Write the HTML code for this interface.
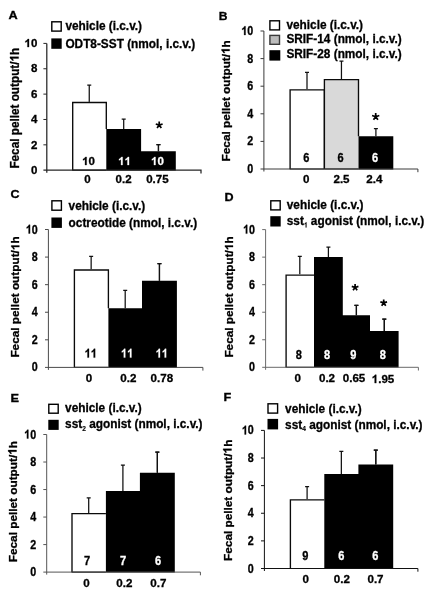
<!DOCTYPE html>
<html><head><meta charset="utf-8"><title>Figure</title>
<style>
html,body{margin:0;padding:0;background:#fff;}
body{width:436px;height:599px;overflow:hidden;font-family:"Liberation Sans", sans-serif;}
svg{display:block;will-change:transform;}
text{font-family:"Liberation Sans", sans-serif;fill:#000;stroke:#000;stroke-width:0.3px;}
.b{font-weight:bold;}
.m{text-anchor:middle;}
.e{text-anchor:end;}
.w{fill:#fff;stroke:#fff;}
</style></head><body>
<svg width="436" height="599" viewBox="0 0 436 599">
<rect width="436" height="599" fill="#fff"/>
<g id="pA">
<text transform="translate(8.4 19.1) scale(1.2 1)" font-size="10.6" class="b">A</text>
<path d="M89.25 101.90V85.00M87.25 85.00H91.25" stroke="#111" stroke-width="1.25" fill="none"/>
<rect x="72.20" y="101.90" width="34.10" height="68.30" fill="#fff"/>
<path d="M72.70 170.20V102.45H106.30V129.10" fill="none" stroke="#0a0a0a" stroke-width="1.35" stroke-linejoin="miter"/>
<path d="M72.20 170.20H106.30" stroke="#0a0a0a" stroke-width="1.2"/>
<g transform="translate(88.50 165.00) scale(1.03 1)"><path transform="translate(-6.23 0) scale(11.2)" d="M0.393 0H0.256V-0.517Q0.181 -0.447 0.079 -0.413V-0.538Q0.133 -0.555 0.196 -0.605Q0.259 -0.654 0.282 -0.719H0.393Z" fill="#000" stroke="#000" stroke-width="0.0268"/><text x="0.00" y="0" font-size="11.2" class="b">0</text></g>
<text transform="translate(87.40 183.40) scale(1.03 1)" font-size="11.2" class="b m">0</text>
<path d="M123.70 129.10V119.00M121.70 119.00H125.70" stroke="#111" stroke-width="1.25" fill="none"/>
<path d="M158.45 151.30V144.70M156.45 144.70H160.45" stroke="#111" stroke-width="1.25" fill="none"/>
<path d="M106.30 170.60V129.10H141.10V151.30H175.80V170.60Z" fill="#000"/>
<g transform="translate(124.50 165.00) scale(1.03 1)"><path transform="translate(-6.23 0) scale(11.2)" d="M0.393 0H0.256V-0.517Q0.181 -0.447 0.079 -0.413V-0.538Q0.133 -0.555 0.196 -0.605Q0.259 -0.654 0.282 -0.719H0.393Z" fill="#fff" stroke="#fff" stroke-width="0.0268"/><path transform="translate(0.00 0) scale(11.2)" d="M0.393 0H0.256V-0.517Q0.181 -0.447 0.079 -0.413V-0.538Q0.133 -0.555 0.196 -0.605Q0.259 -0.654 0.282 -0.719H0.393Z" fill="#fff" stroke="#fff" stroke-width="0.0268"/></g>
<text transform="translate(123.60 183.40) scale(1.03 1)" font-size="11.2" class="b m">0.2</text>
<path d="M158.45 151.30V144.70M156.45 144.70H160.45" stroke="#111" stroke-width="1.25" fill="none"/>
<g transform="translate(157.40 165.00) scale(1.03 1)"><path transform="translate(-6.23 0) scale(11.2)" d="M0.393 0H0.256V-0.517Q0.181 -0.447 0.079 -0.413V-0.538Q0.133 -0.555 0.196 -0.605Q0.259 -0.654 0.282 -0.719H0.393Z" fill="#fff" stroke="#fff" stroke-width="0.0268"/><text x="0.00" y="0" font-size="11.2" class="b w">0</text></g>
<text transform="translate(157.40 183.40) scale(1.03 1)" font-size="11.2" class="b m">0.75</text>
<path d="M46.80 43.40V172.70M43.40 170.20H201.00V173.40" stroke="#262626" stroke-width="1.25" fill="none"/>
<text transform="translate(37.30 173.86) scale(1.03 1)" font-size="11.2" class="b e">0</text>
<path d="M43.40 144.84H46.80" stroke="#262626" stroke-width="1"/>
<text transform="translate(37.30 148.50) scale(1.03 1)" font-size="11.2" class="b e">2</text>
<path d="M43.40 119.48H46.80" stroke="#262626" stroke-width="1"/>
<text transform="translate(37.30 123.14) scale(1.03 1)" font-size="11.2" class="b e">4</text>
<path d="M43.40 94.12H46.80" stroke="#262626" stroke-width="1"/>
<text transform="translate(37.30 97.78) scale(1.03 1)" font-size="11.2" class="b e">6</text>
<path d="M43.40 68.76H46.80" stroke="#262626" stroke-width="1"/>
<text transform="translate(37.30 72.42) scale(1.03 1)" font-size="11.2" class="b e">8</text>
<path d="M43.40 43.40H46.80" stroke="#262626" stroke-width="1"/>
<g transform="translate(37.30 47.06) scale(1.03 1)"><path transform="translate(-12.45 0) scale(11.2)" d="M0.393 0H0.256V-0.517Q0.181 -0.447 0.079 -0.413V-0.538Q0.133 -0.555 0.196 -0.605Q0.259 -0.654 0.282 -0.719H0.393Z" fill="#000" stroke="#000" stroke-width="0.0268"/><text x="-6.23" y="0" font-size="11.2" class="b">0</text></g>
<path d="M159.20 125.10L159.20 121.50M159.20 125.10L162.62 123.99M159.20 125.10L155.78 123.99M159.20 125.10L157.08 128.01M159.20 125.10L161.32 128.01" stroke="#000" stroke-width="1.7" fill="none"/>
<rect x="51.8" y="21.8" width="9.4" height="9.3" fill="#fff" stroke="#000" stroke-width="1.4"/>
<text transform="translate(65.40 30.40) scale(0.947 1)" font-size="12.5" class="b">vehicle (i.c.v.)</text>
<rect x="51.3" y="38.4" width="10.4" height="10.4" fill="#000"/>
<text transform="translate(65.40 47.80) scale(0.947 1)" font-size="12.5" class="b">ODT8-SST (nmol, i.c.v.)</text>
<g transform="translate(18.6 168.6) rotate(-90) scale(0.98 1)"><text font-size="12.0" class="b">Fecal pellet output/</text><path transform="translate(109.34 0) scale(12.0)" d="M0.393 0H0.256V-0.517Q0.181 -0.447 0.079 -0.413V-0.538Q0.133 -0.555 0.196 -0.605Q0.259 -0.654 0.282 -0.719H0.393Z" fill="#000" stroke="#000" stroke-width="0.0250"/><text x="116.01" font-size="12.0" class="b">h</text></g>
</g>
<g id="pB">
<text transform="translate(218.8 20.1) scale(1.1 1)" font-size="11.0" class="b">B</text>
<path d="M307.00 89.30V72.40M305.00 72.40H309.00" stroke="#111" stroke-width="1.25" fill="none"/>
<rect x="289.60" y="89.30" width="34.80" height="79.70" fill="#fff"/>
<path d="M290.10 169.00V89.85H324.40V169.00" fill="none" stroke="#0a0a0a" stroke-width="1.35" stroke-linejoin="miter"/>
<path d="M289.60 169.00H324.40" stroke="#0a0a0a" stroke-width="1.2"/>
<text transform="translate(306.20 161.60) scale(0.9 1)" font-size="12.3" class="b m">6</text>
<text transform="translate(306.20 183.40) scale(1.0 1)" font-size="11.6" class="b m">0</text>
<path d="M341.45 79.10V61.00M339.45 61.00H343.45" stroke="#111" stroke-width="1.25" fill="none"/>
<rect x="324.40" y="79.10" width="34.10" height="89.90" fill="#d9d9d9"/>
<path d="M324.40 169.00V79.65H358.50V136.30" fill="none" stroke="#0a0a0a" stroke-width="1.35" stroke-linejoin="miter"/>
<path d="M324.40 169.00H358.50" stroke="#0a0a0a" stroke-width="1.2"/>
<text transform="translate(340.50 161.60) scale(0.9 1)" font-size="12.3" class="b m">6</text>
<text transform="translate(341.50 183.40) scale(1.0 1)" font-size="11.6" class="b m">2.5</text>
<path d="M375.90 136.30V128.50M373.90 128.50H377.90" stroke="#111" stroke-width="1.25" fill="none"/>
<path d="M358.50 169.40V136.30H393.30V169.40Z" fill="#000"/>
<text transform="translate(375.10 161.60) scale(0.9 1)" font-size="12.3" class="b m w">6</text>
<text transform="translate(374.30 183.40) scale(1.0 1)" font-size="11.6" class="b m">2.4</text>
<path d="M263.90 31.00V171.50M260.50 169.00H417.90V172.20" stroke="#3a3a3a" stroke-width="1" fill="none"/>
<text transform="translate(253.30 173.01) scale(0.88 1)" font-size="12.2" class="b e">0</text>
<path d="M260.50 141.40H263.90" stroke="#3a3a3a" stroke-width="1"/>
<text transform="translate(253.30 145.41) scale(0.88 1)" font-size="12.2" class="b e">2</text>
<path d="M260.50 113.80H263.90" stroke="#3a3a3a" stroke-width="1"/>
<text transform="translate(253.30 117.81) scale(0.88 1)" font-size="12.2" class="b e">4</text>
<path d="M260.50 86.20H263.90" stroke="#3a3a3a" stroke-width="1"/>
<text transform="translate(253.30 90.21) scale(0.88 1)" font-size="12.2" class="b e">6</text>
<path d="M260.50 58.60H263.90" stroke="#3a3a3a" stroke-width="1"/>
<text transform="translate(253.30 62.61) scale(0.88 1)" font-size="12.2" class="b e">8</text>
<path d="M260.50 31.00H263.90" stroke="#3a3a3a" stroke-width="1"/>
<g transform="translate(253.30 35.01) scale(0.88 1)"><path transform="translate(-13.57 0) scale(12.2)" d="M0.393 0H0.256V-0.517Q0.181 -0.447 0.079 -0.413V-0.538Q0.133 -0.555 0.196 -0.605Q0.259 -0.654 0.282 -0.719H0.393Z" fill="#000" stroke="#000" stroke-width="0.0246"/><text x="-6.78" y="0" font-size="12.2" class="b">0</text></g>
<path d="M375.70 116.70L375.70 112.90M375.70 116.70L379.31 115.53M375.70 116.70L372.09 115.53M375.70 116.70L373.47 119.77M375.70 116.70L377.93 119.77" stroke="#000" stroke-width="1.7" fill="none"/>
<rect x="269.9" y="20.8" width="9.6" height="9.1" fill="#fff" stroke="#000" stroke-width="1.4"/>
<text transform="translate(286.40 29.00) scale(0.947 1)" font-size="12.5" class="b">vehicle (i.c.v.)</text>
<rect x="269.9" y="35.4" width="9.6" height="8.9" fill="#bcbcbc" stroke="#3a3a3a" stroke-width="1.4"/>
<text transform="translate(286.40 43.30) scale(0.947 1)" font-size="12.5" class="b">SRIF-14 (nmol, i.c.v.)</text>
<rect x="269.4" y="50.2" width="10.9" height="10.4" fill="#000"/>
<text transform="translate(286.40 57.70) scale(0.947 1)" font-size="12.5" class="b">SRIF-28 (nmol, i.c.v.)</text>
<g transform="translate(229.6 161.4) rotate(-90) scale(1.053 1)"><text font-size="11.2" class="b">Fecal pellet output/</text><path transform="translate(102.05 0) scale(11.2)" d="M0.393 0H0.256V-0.517Q0.181 -0.447 0.079 -0.413V-0.538Q0.133 -0.555 0.196 -0.605Q0.259 -0.654 0.282 -0.719H0.393Z" fill="#000" stroke="#000" stroke-width="0.0268"/><text x="108.28" font-size="11.2" class="b">h</text></g>
</g>
<g id="pC">
<text transform="translate(10.4 197.6) scale(1.12 1)" font-size="11.2" class="b">C</text>
<path d="M91.15 269.40V256.30M89.15 256.30H93.15" stroke="#111" stroke-width="1.25" fill="none"/>
<rect x="73.90" y="269.40" width="34.50" height="98.00" fill="#fff"/>
<path d="M74.40 367.40V269.95H108.40V308.20" fill="none" stroke="#0a0a0a" stroke-width="1.35" stroke-linejoin="miter"/>
<path d="M73.90 367.40H108.40" stroke="#0a0a0a" stroke-width="1.2"/>
<g transform="translate(90.80 357.60) scale(0.9 1)"><path transform="translate(-6.84 0) scale(12.3)" d="M0.393 0H0.256V-0.517Q0.181 -0.447 0.079 -0.413V-0.538Q0.133 -0.555 0.196 -0.605Q0.259 -0.654 0.282 -0.719H0.393Z" fill="#000" stroke="#000" stroke-width="0.0244"/><path transform="translate(0.00 0) scale(12.3)" d="M0.393 0H0.256V-0.517Q0.181 -0.447 0.079 -0.413V-0.538Q0.133 -0.555 0.196 -0.605Q0.259 -0.654 0.282 -0.719H0.393Z" fill="#000" stroke="#000" stroke-width="0.0244"/></g>
<text transform="translate(88.90 382.00) scale(1.0 1)" font-size="11.6" class="b m">0</text>
<path d="M125.20 308.20V290.40M123.20 290.40H127.20" stroke="#111" stroke-width="1.25" fill="none"/>
<path d="M159.45 280.80V263.60M157.45 263.60H161.45" stroke="#111" stroke-width="1.25" fill="none"/>
<path d="M108.40 367.80V308.20H142.00V280.80H176.90V367.80Z" fill="#000"/>
<g transform="translate(127.10 357.60) scale(0.9 1)"><path transform="translate(-6.84 0) scale(12.3)" d="M0.393 0H0.256V-0.517Q0.181 -0.447 0.079 -0.413V-0.538Q0.133 -0.555 0.196 -0.605Q0.259 -0.654 0.282 -0.719H0.393Z" fill="#fff" stroke="#fff" stroke-width="0.0244"/><path transform="translate(0.00 0) scale(12.3)" d="M0.393 0H0.256V-0.517Q0.181 -0.447 0.079 -0.413V-0.538Q0.133 -0.555 0.196 -0.605Q0.259 -0.654 0.282 -0.719H0.393Z" fill="#fff" stroke="#fff" stroke-width="0.0244"/></g>
<text transform="translate(128.40 382.00) scale(1.0 1)" font-size="11.6" class="b m">0.2</text>
<path d="M159.45 280.80V263.60M157.45 263.60H161.45" stroke="#111" stroke-width="1.25" fill="none"/>
<g transform="translate(161.80 357.60) scale(0.9 1)"><path transform="translate(-6.84 0) scale(12.3)" d="M0.393 0H0.256V-0.517Q0.181 -0.447 0.079 -0.413V-0.538Q0.133 -0.555 0.196 -0.605Q0.259 -0.654 0.282 -0.719H0.393Z" fill="#fff" stroke="#fff" stroke-width="0.0244"/><path transform="translate(0.00 0) scale(12.3)" d="M0.393 0H0.256V-0.517Q0.181 -0.447 0.079 -0.413V-0.538Q0.133 -0.555 0.196 -0.605Q0.259 -0.654 0.282 -0.719H0.393Z" fill="#fff" stroke="#fff" stroke-width="0.0244"/></g>
<text transform="translate(161.90 382.00) scale(1.0 1)" font-size="11.6" class="b m">0.78</text>
<path d="M48.40 229.50V369.90M45.00 367.40H202.90V370.60" stroke="#4a4a4a" stroke-width="1" fill="none"/>
<text transform="translate(37.80 371.41) scale(0.88 1)" font-size="12.2" class="b e">0</text>
<path d="M45.00 339.82H48.40" stroke="#4a4a4a" stroke-width="1"/>
<text transform="translate(37.80 343.83) scale(0.88 1)" font-size="12.2" class="b e">2</text>
<path d="M45.00 312.24H48.40" stroke="#4a4a4a" stroke-width="1"/>
<text transform="translate(37.80 316.25) scale(0.88 1)" font-size="12.2" class="b e">4</text>
<path d="M45.00 284.66H48.40" stroke="#4a4a4a" stroke-width="1"/>
<text transform="translate(37.80 288.67) scale(0.88 1)" font-size="12.2" class="b e">6</text>
<path d="M45.00 257.08H48.40" stroke="#4a4a4a" stroke-width="1"/>
<text transform="translate(37.80 261.09) scale(0.88 1)" font-size="12.2" class="b e">8</text>
<path d="M45.00 229.50H48.40" stroke="#4a4a4a" stroke-width="1"/>
<g transform="translate(37.80 233.51) scale(0.88 1)"><path transform="translate(-13.57 0) scale(12.2)" d="M0.393 0H0.256V-0.517Q0.181 -0.447 0.079 -0.413V-0.538Q0.133 -0.555 0.196 -0.605Q0.259 -0.654 0.282 -0.719H0.393Z" fill="#000" stroke="#000" stroke-width="0.0246"/><text x="-6.78" y="0" font-size="12.2" class="b">0</text></g>
<rect x="51.9" y="200.8" width="9.5" height="9.4" fill="#fff" stroke="#000" stroke-width="1.4"/>
<text transform="translate(68.60 209.70) scale(0.947 1)" font-size="12.5" class="b">vehicle (i.c.v.)</text>
<rect x="51.4" y="217.5" width="10.5" height="10.4" fill="#000"/>
<text transform="translate(68.60 226.50) scale(0.947 1)" font-size="12.5" class="b">octreotide (nmol, i.c.v.)</text>
<g transform="translate(19.3 357.6) rotate(-90) scale(1.053 1)"><text font-size="11.2" class="b">Fecal pellet output/</text><path transform="translate(102.05 0) scale(11.2)" d="M0.393 0H0.256V-0.517Q0.181 -0.447 0.079 -0.413V-0.538Q0.133 -0.555 0.196 -0.605Q0.259 -0.654 0.282 -0.719H0.393Z" fill="#000" stroke="#000" stroke-width="0.0268"/><text x="108.28" font-size="11.2" class="b">h</text></g>
</g>
<g id="pD">
<text transform="translate(224.5 200.5) scale(1.12 1)" font-size="11.2" class="b">D</text>
<path d="M299.80 274.50V256.30M297.80 256.30H301.80" stroke="#111" stroke-width="1.25" fill="none"/>
<rect x="285.60" y="274.50" width="28.40" height="92.80" fill="#fff"/>
<path d="M286.10 367.30V275.05H314.00" fill="none" stroke="#0a0a0a" stroke-width="1.35" stroke-linejoin="miter"/>
<path d="M285.60 367.30H314.00" stroke="#0a0a0a" stroke-width="1.2"/>
<text transform="translate(298.90 359.20) scale(0.9 1)" font-size="12.3" class="b m">8</text>
<text transform="translate(297.70 382.20) scale(1.0 1)" font-size="11.6" class="b m">0</text>
<path d="M328.40 257.00V247.20M326.40 247.20H330.40" stroke="#111" stroke-width="1.25" fill="none"/>
<path d="M356.40 315.20V305.30M354.40 305.30H358.40" stroke="#111" stroke-width="1.25" fill="none"/>
<path d="M384.30 331.00V319.20M382.30 319.20H386.30" stroke="#111" stroke-width="1.25" fill="none"/>
<path d="M314.00 367.70V257.00H342.80V315.20H370.00V331.00H398.60V367.70Z" fill="#000"/>
<text transform="translate(327.00 359.20) scale(0.9 1)" font-size="12.3" class="b m w">8</text>
<text transform="translate(327.00 382.20) scale(1.0 1)" font-size="11.6" class="b m">0.2</text>
<path d="M356.40 315.20V305.30M354.40 305.30H358.40" stroke="#111" stroke-width="1.25" fill="none"/>
<text transform="translate(353.20 359.20) scale(0.9 1)" font-size="12.3" class="b m w">9</text>
<text transform="translate(354.00 382.20) scale(1.0 1)" font-size="11.6" class="b m">0.65</text>
<path d="M384.30 331.00V319.20M382.30 319.20H386.30" stroke="#111" stroke-width="1.25" fill="none"/>
<text transform="translate(382.70 359.20) scale(0.9 1)" font-size="12.3" class="b m w">8</text>
<g transform="translate(383.00 383.10) scale(1.0 1)"><path transform="translate(-11.29 0) scale(11.6)" d="M0.393 0H0.256V-0.517Q0.181 -0.447 0.079 -0.413V-0.538Q0.133 -0.555 0.196 -0.605Q0.259 -0.654 0.282 -0.719H0.393Z" fill="#000" stroke="#000" stroke-width="0.0259"/><text x="-4.84" y="0" font-size="11.6" class="b">.95</text></g>
<path d="M265.60 229.60V369.80M262.20 367.30H418.40V370.50" stroke="#6a6a6a" stroke-width="1" fill="none"/>
<text transform="translate(255.00 371.31) scale(0.88 1)" font-size="12.2" class="b e">0</text>
<path d="M262.20 339.76H265.60" stroke="#6a6a6a" stroke-width="1"/>
<text transform="translate(255.00 343.77) scale(0.88 1)" font-size="12.2" class="b e">2</text>
<path d="M262.20 312.22H265.60" stroke="#6a6a6a" stroke-width="1"/>
<text transform="translate(255.00 316.23) scale(0.88 1)" font-size="12.2" class="b e">4</text>
<path d="M262.20 284.68H265.60" stroke="#6a6a6a" stroke-width="1"/>
<text transform="translate(255.00 288.69) scale(0.88 1)" font-size="12.2" class="b e">6</text>
<path d="M262.20 257.14H265.60" stroke="#6a6a6a" stroke-width="1"/>
<text transform="translate(255.00 261.15) scale(0.88 1)" font-size="12.2" class="b e">8</text>
<path d="M262.20 229.60H265.60" stroke="#6a6a6a" stroke-width="1"/>
<g transform="translate(255.00 233.61) scale(0.88 1)"><path transform="translate(-13.57 0) scale(12.2)" d="M0.393 0H0.256V-0.517Q0.181 -0.447 0.079 -0.413V-0.538Q0.133 -0.555 0.196 -0.605Q0.259 -0.654 0.282 -0.719H0.393Z" fill="#000" stroke="#000" stroke-width="0.0246"/><text x="-6.78" y="0" font-size="12.2" class="b">0</text></g>
<path d="M355.10 287.50L355.10 284.00M355.10 287.50L358.43 286.42M355.10 287.50L351.77 286.42M355.10 287.50L353.04 290.33M355.10 287.50L357.16 290.33" stroke="#000" stroke-width="1.7" fill="none"/>
<path d="M383.70 302.90L383.70 299.40M383.70 302.90L387.03 301.82M383.70 302.90L380.37 301.82M383.70 302.90L381.64 305.73M383.70 302.90L385.76 305.73" stroke="#000" stroke-width="1.7" fill="none"/>
<rect x="270.8" y="200.8" width="9.4" height="9.1" fill="#fff" stroke="#000" stroke-width="1.4"/>
<text transform="translate(286.80 208.80) scale(0.947 1)" font-size="12.5" class="b">vehicle (i.c.v.)</text>
<rect x="270.3" y="216.2" width="10.4" height="10.3" fill="#000"/>
<g transform="translate(286.80 225.00) scale(0.947 1)"><text font-size="12.5" class="b">sst</text><path transform="translate(18.07 2.4) scale(7)" d="M0.393 0H0.256V-0.517Q0.181 -0.447 0.079 -0.413V-0.538Q0.133 -0.555 0.196 -0.605Q0.259 -0.654 0.282 -0.719H0.393Z" fill="#000" stroke="#000" stroke-width="0.02"/><text x="25.43" font-size="12.5" class="b">agonist (nmol, i.c.v.)</text></g>
<g transform="translate(233.0 357.6) rotate(-90) scale(1.053 1)"><text font-size="11.2" class="b">Fecal pellet output/</text><path transform="translate(102.05 0) scale(11.2)" d="M0.393 0H0.256V-0.517Q0.181 -0.447 0.079 -0.413V-0.538Q0.133 -0.555 0.196 -0.605Q0.259 -0.654 0.282 -0.719H0.393Z" fill="#000" stroke="#000" stroke-width="0.0268"/><text x="108.28" font-size="11.2" class="b">h</text></g>
</g>
<g id="pE">
<text transform="translate(10.4 401.7) scale(1.12 1)" font-size="11.4" class="b">E</text>
<path d="M88.70 513.00V497.80M86.70 497.80H90.70" stroke="#111" stroke-width="1.25" fill="none"/>
<rect x="71.50" y="513.00" width="34.40" height="59.10" fill="#fff"/>
<path d="M72.00 572.10V513.55H105.90" fill="none" stroke="#0a0a0a" stroke-width="1.35" stroke-linejoin="miter"/>
<path d="M71.50 572.10H105.90" stroke="#0a0a0a" stroke-width="1.2"/>
<text transform="translate(87.00 565.00) scale(0.9 1)" font-size="12.3" class="b m">7</text>
<text transform="translate(86.40 587.00) scale(1.0 1)" font-size="11.6" class="b m">0</text>
<path d="M122.90 490.90V465.20M120.90 465.20H124.90" stroke="#111" stroke-width="1.25" fill="none"/>
<path d="M157.35 472.70V452.10M155.35 452.10H159.35" stroke="#111" stroke-width="1.25" fill="none"/>
<path d="M105.90 572.50V490.90H139.90V472.70H174.80V572.50Z" fill="#000"/>
<text transform="translate(123.10 565.00) scale(0.9 1)" font-size="12.3" class="b m w">7</text>
<text transform="translate(124.40 587.00) scale(1.0 1)" font-size="11.6" class="b m">0.2</text>
<path d="M157.35 472.70V452.10M155.35 452.10H159.35" stroke="#111" stroke-width="1.25" fill="none"/>
<text transform="translate(158.00 565.00) scale(0.9 1)" font-size="12.3" class="b m w">6</text>
<text transform="translate(158.30 587.00) scale(1.0 1)" font-size="11.6" class="b m">0.7</text>
<path d="M46.70 434.50V574.60M43.30 572.10H200.40V575.30" stroke="#555" stroke-width="1" fill="none"/>
<text transform="translate(36.10 576.11) scale(0.88 1)" font-size="12.2" class="b e">0</text>
<path d="M43.30 544.58H46.70" stroke="#555" stroke-width="1"/>
<text transform="translate(36.10 548.59) scale(0.88 1)" font-size="12.2" class="b e">2</text>
<path d="M43.30 517.06H46.70" stroke="#555" stroke-width="1"/>
<text transform="translate(36.10 521.07) scale(0.88 1)" font-size="12.2" class="b e">4</text>
<path d="M43.30 489.54H46.70" stroke="#555" stroke-width="1"/>
<text transform="translate(36.10 493.55) scale(0.88 1)" font-size="12.2" class="b e">6</text>
<path d="M43.30 462.02H46.70" stroke="#555" stroke-width="1"/>
<text transform="translate(36.10 466.03) scale(0.88 1)" font-size="12.2" class="b e">8</text>
<path d="M43.30 434.50H46.70" stroke="#555" stroke-width="1"/>
<g transform="translate(36.10 438.51) scale(0.88 1)"><path transform="translate(-13.57 0) scale(12.2)" d="M0.393 0H0.256V-0.517Q0.181 -0.447 0.079 -0.413V-0.538Q0.133 -0.555 0.196 -0.605Q0.259 -0.654 0.282 -0.719H0.393Z" fill="#000" stroke="#000" stroke-width="0.0246"/><text x="-6.78" y="0" font-size="12.2" class="b">0</text></g>
<rect x="48.8" y="404.3" width="9.4" height="8.9" fill="#fff" stroke="#000" stroke-width="1.4"/>
<text transform="translate(65.10 412.40) scale(0.947 1)" font-size="12.5" class="b">vehicle (i.c.v.)</text>
<rect x="48.3" y="419.8" width="10.4" height="10.1" fill="#000"/>
<text transform="translate(65.10 428.40) scale(0.947 1)" font-size="12.5" class="b">sst<tspan font-size="7" dy="2.4" style="stroke-width:0.15px">2</tspan><tspan dy="-2.4"> agonist (nmol, i.c.v.)</tspan></text>
<g transform="translate(16.5 562.2) rotate(-90) scale(1.017 1)"><text font-size="11.6" class="b">Fecal pellet output/</text><path transform="translate(105.70 0) scale(11.6)" d="M0.393 0H0.256V-0.517Q0.181 -0.447 0.079 -0.413V-0.538Q0.133 -0.555 0.196 -0.605Q0.259 -0.654 0.282 -0.719H0.393Z" fill="#000" stroke="#000" stroke-width="0.0259"/><text x="112.15" font-size="11.6" class="b">h</text></g>
</g>
<g id="pF">
<text transform="translate(223.4 400.7) scale(1.12 1)" font-size="11.4" class="b">F</text>
<path d="M307.10 499.30V486.60M305.10 486.60H309.10" stroke="#111" stroke-width="1.25" fill="none"/>
<rect x="289.90" y="499.30" width="34.40" height="69.20" fill="#fff"/>
<path d="M290.40 568.50V499.85H324.30" fill="none" stroke="#0a0a0a" stroke-width="1.35" stroke-linejoin="miter"/>
<path d="M289.90 568.50H324.30" stroke="#0a0a0a" stroke-width="1.2"/>
<text transform="translate(305.20 560.10) scale(0.9 1)" font-size="12.3" class="b m">9</text>
<text transform="translate(305.80 582.80) scale(1.0 1)" font-size="11.6" class="b m">0</text>
<path d="M341.35 474.00V451.30M339.35 451.30H343.35" stroke="#111" stroke-width="1.25" fill="none"/>
<path d="M375.80 464.40V450.00M373.80 450.00H377.80" stroke="#111" stroke-width="1.25" fill="none"/>
<path d="M324.30 568.90V474.00H358.40V464.40H393.20V568.90Z" fill="#000"/>
<text transform="translate(341.30 560.10) scale(0.9 1)" font-size="12.3" class="b m w">6</text>
<text transform="translate(341.90 582.80) scale(1.0 1)" font-size="11.6" class="b m">0.2</text>
<path d="M375.80 464.40V450.00M373.80 450.00H377.80" stroke="#111" stroke-width="1.25" fill="none"/>
<text transform="translate(375.40 560.10) scale(0.9 1)" font-size="12.3" class="b m w">6</text>
<text transform="translate(375.50 582.80) scale(1.0 1)" font-size="11.6" class="b m">0.7</text>
<path d="M264.40 430.40V571.00M261.00 568.50H417.90V571.70" stroke="#111" stroke-width="1" fill="none"/>
<text transform="translate(253.80 572.51) scale(0.88 1)" font-size="12.2" class="b e">0</text>
<path d="M261.00 540.88H264.40" stroke="#111" stroke-width="1"/>
<text transform="translate(253.80 544.89) scale(0.88 1)" font-size="12.2" class="b e">2</text>
<path d="M261.00 513.26H264.40" stroke="#111" stroke-width="1"/>
<text transform="translate(253.80 517.27) scale(0.88 1)" font-size="12.2" class="b e">4</text>
<path d="M261.00 485.64H264.40" stroke="#111" stroke-width="1"/>
<text transform="translate(253.80 489.65) scale(0.88 1)" font-size="12.2" class="b e">6</text>
<path d="M261.00 458.02H264.40" stroke="#111" stroke-width="1"/>
<text transform="translate(253.80 462.03) scale(0.88 1)" font-size="12.2" class="b e">8</text>
<path d="M261.00 430.40H264.40" stroke="#111" stroke-width="1"/>
<g transform="translate(253.80 434.41) scale(0.88 1)"><path transform="translate(-13.57 0) scale(12.2)" d="M0.393 0H0.256V-0.517Q0.181 -0.447 0.079 -0.413V-0.538Q0.133 -0.555 0.196 -0.605Q0.259 -0.654 0.282 -0.719H0.393Z" fill="#000" stroke="#000" stroke-width="0.0246"/><text x="-6.78" y="0" font-size="12.2" class="b">0</text></g>
<rect x="268.0" y="403.8" width="9.6" height="9.3" fill="#fff" stroke="#000" stroke-width="1.4"/>
<text transform="translate(285.10 412.60) scale(0.947 1)" font-size="12.5" class="b">vehicle (i.c.v.)</text>
<rect x="267.5" y="418.9" width="10.6" height="10.5" fill="#000"/>
<text transform="translate(285.10 428.60) scale(0.947 1)" font-size="12.5" class="b">sst<tspan font-size="7" dy="2.4" style="stroke-width:0.15px">4</tspan><tspan dy="-2.4"> agonist (nmol, i.c.v.)</tspan></text>
<g transform="translate(231.5 560.9) rotate(-90) scale(1.017 1)"><text font-size="11.6" class="b">Fecal pellet output/</text><path transform="translate(105.70 0) scale(11.6)" d="M0.393 0H0.256V-0.517Q0.181 -0.447 0.079 -0.413V-0.538Q0.133 -0.555 0.196 -0.605Q0.259 -0.654 0.282 -0.719H0.393Z" fill="#000" stroke="#000" stroke-width="0.0259"/><text x="112.15" font-size="11.6" class="b">h</text></g>
</g>
</svg>
</body></html>
